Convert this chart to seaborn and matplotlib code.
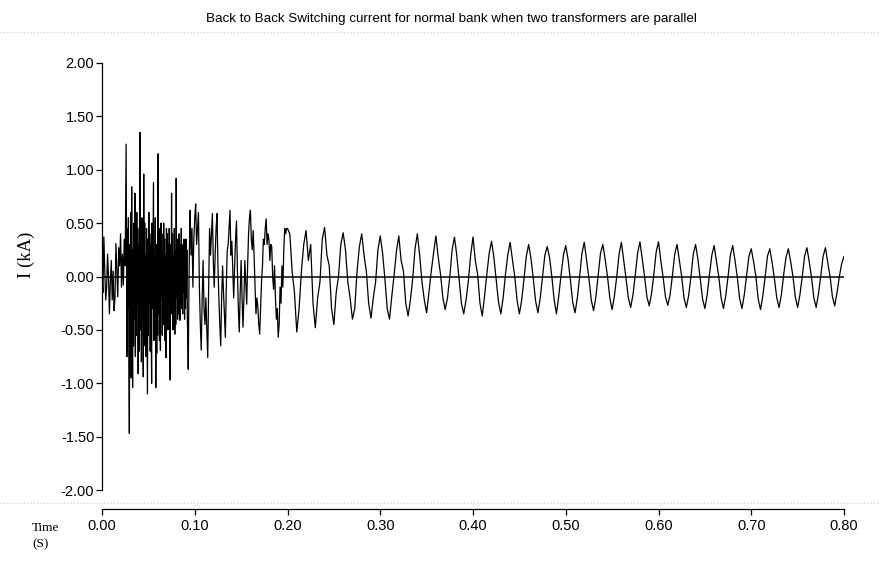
import numpy as np
import pandas as pd
import seaborn as sns
import matplotlib.pyplot as plt
from matplotlib.lines import Line2D
from matplotlib import font_manager as fm

# ---------------- data ----------------
# first oscillations: samples every 1 ms from 0.000 s to 0.026 s
start_a, step_a = 0.0, 0.001
current_a = [
    0.00, -0.15, 0.37, 0.05, -0.22, -0.10, 0.21, 0.00, -0.35, -0.05,
    0.15, -0.22, 0.05, -0.32, -0.20, 0.31, 0.05, -0.19, 0.27, 0.10,
    0.40, -0.10, 0.21, -0.08, 0.35, 0.10, 1.24,
]

# dense switching burst: samples every 0.5 ms from 0.027 s to 0.0945 s
start_b, step_b = 0.027, 0.0005
current_b = [
    -0.75, 0.45, -0.30, 0.55, -0.80, -1.47, 0.30, -0.70, 0.60, -0.95,
    0.84, -0.35, -1.04, 0.25, -0.65, 0.50, -0.40, 0.78, -0.75, 0.35,
    -0.55, 0.60, -0.25, 0.45, -0.91, 0.30, -0.70, 0.55, 1.35, -0.50,
    0.25, -0.80, 0.55, -0.35, 0.40, -0.94, 0.96, -0.30, 0.50, -0.65,
    0.20, -0.75, 0.45, -0.40, -1.10, 0.35, -0.55, 0.60, -0.25, 0.40,
    -0.70, 0.30, -0.45, -1.00, 0.50, -0.30, 0.25, 0.88, -0.60, 0.15,
    -0.45, 0.55, -1.04, 0.30, -0.72, 0.20, -0.55, 1.15, -0.35, 0.45,
    -0.60, 0.25, -0.69, 0.50, -0.20, 0.40, -0.55, 0.15, -0.45, 0.50,
    -0.30, 0.35, -0.60, 0.20, -0.76, 0.45, -0.25, 0.40, -0.50, 0.30,
    -0.20, 0.45, -0.40, -0.97, 0.30, -0.35, 0.78, -0.15, 0.40, -0.50,
    0.20, -0.30, 0.45, -0.54, 0.25, -0.45, 0.92, -0.20, 0.35, -0.40,
    0.15, -0.35, 0.40, -0.10, -0.41, 0.30, -0.25, 0.45, -0.30, 0.20,
    -0.35, 0.30, -0.15, 0.35, -0.40, 0.10, -0.30, 0.35, -0.20, 0.25,
    -0.40, -0.60, -0.87, -0.30, 0.10, 0.40,
]

# ringing decay: samples every 1 ms from 0.095 s to 0.199 s
start_c, step_c = 0.095, 0.001
current_c = [
    0.62, 0.20, 0.45, -0.10, 0.35,
    0.55, 0.68, 0.30, 0.45, 0.60, -0.10, -0.45, -0.69, -0.20, 0.15,
    -0.30, -0.45, -0.20, -0.50, -0.76, -0.10, 0.45, 0.20, 0.40, 0.59,
    0.15, -0.10, 0.20, 0.45, 0.59, 0.10, -0.20, -0.45, -0.65, -0.20,
    0.10, -0.15, -0.35, -0.57, -0.10, 0.24, 0.30, 0.45, 0.62, 0.20,
    0.33, 0.05, -0.20, 0.10, 0.35, 0.52, 0.05, -0.30, -0.52, -0.15,
    0.15, -0.20, -0.475, -0.20, 0.15, -0.05, -0.26, 0.10, 0.40, 0.55,
    0.62, 0.35, 0.25, 0.43, 0.20, -0.10, -0.35, -0.20, -0.28, -0.45,
    -0.54, -0.30, -0.05, 0.10, 0.35, 0.30, 0.45, 0.54, 0.30, 0.40,
    0.34, 0.15, 0.30, 0.28, 0.00, -0.12, 0.10, -0.20, -0.40, -0.30,
    -0.57, -0.45, -0.10, -0.25, 0.10, -0.10, 0.25, 0.45, 0.40, 0.45,
]

# settling 50 Hz part: samples every 2.5 ms from 0.200 s to 0.800 s
start_d, step_d = 0.2, 0.0025
current_d = [
    0.45, 0.40, 0.05, -0.15, -0.52, -0.30, 0.05, 0.30,
    0.43, 0.15, 0.30, -0.25, -0.48, -0.20, -0.05, 0.35,
    0.46, 0.20, 0.10, -0.30, -0.45, -0.15, 0.00, 0.30,
    0.41, 0.25, -0.05, -0.20, -0.40, -0.30, 0.05, 0.28,
    0.40, 0.20, 0.05, -0.25, -0.39, -0.20, -0.05, 0.25,
    0.38, 0.22, -0.02, -0.30, -0.40, -0.18, 0.02, 0.24,
    0.38, 0.15, 0.05, -0.25, -0.37, -0.22, -0.02, 0.26,
    0.40, 0.20, -0.05, -0.22, -0.34, -0.15, 0.05, 0.22,
    0.38, 0.18, 0.02, -0.20, -0.31, -0.20, 0.00, 0.25,
    0.37, 0.20, -0.02, -0.25, -0.35, -0.22, -0.04, 0.20,
    0.37, 0.15, 0.02, -0.25, -0.37, -0.18, 0.03, 0.22,
    0.33, 0.18, -0.03, -0.24, -0.35, -0.20, 0.02, 0.20,
    0.32, 0.16, 0.00, -0.22, -0.35, -0.22, -0.02, 0.19,
    0.30, 0.17, -0.02, -0.23, -0.34, -0.20, 0.00, 0.20,
    0.28, 0.18, 0.00, -0.22, -0.35, -0.18, 0.02, 0.20,
    0.29, 0.16, -0.03, -0.24, -0.34, -0.20, 0.00, 0.22,
    0.32, 0.15, -0.02, -0.22, -0.32, -0.19, 0.02, 0.22,
    0.30, 0.16, 0.00, -0.20, -0.31, -0.18, 0.00, 0.21,
    0.32, 0.15, -0.02, -0.20, -0.29, -0.17, 0.02, 0.22,
    0.325, 0.16, 0.00, -0.19, -0.275, -0.16, 0.02, 0.23,
    0.325, 0.15, -0.01, -0.19, -0.27, -0.17, 0.01, 0.21,
    0.30, 0.15, 0.00, -0.20, -0.29, -0.18, 0.00, 0.21,
    0.30, 0.16, -0.02, -0.21, -0.30, -0.17, 0.02, 0.20,
    0.29, 0.14, 0.00, -0.20, -0.30, -0.18, 0.00, 0.20,
    0.29, 0.15, -0.01, -0.21, -0.30, -0.17, 0.01, 0.19,
    0.26, 0.14, 0.00, -0.21, -0.31, -0.18, 0.00, 0.19,
    0.26, 0.13, -0.02, -0.20, -0.29, -0.17, 0.02, 0.18,
    0.26, 0.14, 0.00, -0.19, -0.29, -0.17, 0.00, 0.19,
    0.27, 0.14, -0.01, -0.20, -0.29, -0.16, 0.01, 0.19,
    0.27, 0.13, 0.00, -0.19, -0.275, -0.15, 0.00, 0.12,
    0.19,
]

x_ticks = [0.0, 0.1, 0.2, 0.3, 0.4, 0.5, 0.6, 0.7, 0.8]
x_tick_labels = ["0.00", "0.10", "0.20", "0.30", "0.40", "0.50", "0.60", "0.70", "0.80"]
y_ticks = [-2.0, -1.5, -1.0, -0.5, 0.0, 0.5, 1.0, 1.5, 2.0]
y_tick_labels = ["-2.00", "-1.50", "-1.00", "-0.50", "0.00", "0.50", "1.00", "1.50", "2.00"]

title = "Back to Back Switching current for normal bank when two transformers are parallel"

# ---------------- build table ----------------
parts = [(start_a, step_a, current_a), (start_b, step_b, current_b),
         (start_c, step_c, current_c), (start_d, step_d, current_d)]
times = np.concatenate([s + d * np.arange(len(v)) for s, d, v in parts])
values = np.concatenate([v for _, _, v in parts])
df = pd.DataFrame({"Time": times, "I": values})

# ---------------- style ----------------
sns.set_style("ticks")
installed = {f.name for f in fm.fontManager.ttflist}
if "Liberation Sans Narrow" in installed:
    narrow = ["Liberation Sans Narrow", "DejaVu Sans"]
    tick_size, title_size = 11.5, 10.5
else:
    narrow = ["Liberation Sans", "DejaVu Sans"]
    tick_size, title_size = 10.5, 9.6
serif = ["Liberation Serif", "DejaVu Serif"]
plt.rcParams["font.family"] = narrow

W, H = 880, 563
fig = plt.figure(figsize=(W / 100, H / 100), dpi=100)
fig.patch.set_facecolor("white")

left, right = 102 / W, 844 / W
top, bottom = 1 - 63 / H, 1 - 490 / H
ax = fig.add_axes([left, bottom, right - left, top - bottom])
ax.set_facecolor("white")

sns.lineplot(data=df, x="Time", y="I", ax=ax, color="black", linewidth=0.9,
             estimator=None, sort=False, legend=False)
ax.axhline(0, color="black", linewidth=1.1, zorder=3)

ax.set_xlim(0, 0.8)
ax.set_ylim(-2, 2)
ax.set_xticks(x_ticks)
ax.set_xticklabels(x_tick_labels)
ax.set_yticks(y_ticks)
ax.set_yticklabels(y_tick_labels)
ax.set_xlabel("")
ax.set_ylabel("")

for s in ["top", "right"]:
    ax.spines[s].set_visible(False)
ax.spines["bottom"].set_position(("outward", 13.7))
for s in ["left", "bottom"]:
    ax.spines[s].set_color("black")
    ax.spines[s].set_linewidth(0.9)

ax.tick_params(axis="both", direction="out", length=4, width=0.9, colors="black",
               labelsize=tick_size)
ax.tick_params(axis="y", pad=1.5)
ax.tick_params(axis="x", pad=3)

# ---------------- texts ----------------
fig.text(451 / W, 1 - 19 / H, title, ha="center", va="center", fontsize=title_size,
         family=narrow, color="black")
fig.text(26 / W, 1 - 255 / H, "I (kA)", rotation=90, ha="center", va="center",
         fontsize=13.5, family=serif, color="black")
fig.text(32 / W, 1 - 528 / H, "Time", ha="left", va="center", fontsize=9.5,
         family=serif, color="black")
fig.text(32 / W, 1 - 544 / H, "(S)", ha="left", va="center", fontsize=9.5,
         family=serif, color="black")

# faint scan lines of the original figure
for yy in (32, 503):
    fig.add_artist(Line2D([0, 1], [1 - yy / H, 1 - yy / H], transform=fig.transFigure,
                          color="#c8c8c8", linewidth=0.8, linestyle=(0, (1, 2))))

fig.savefig("out.png", dpi=100, facecolor="white")
